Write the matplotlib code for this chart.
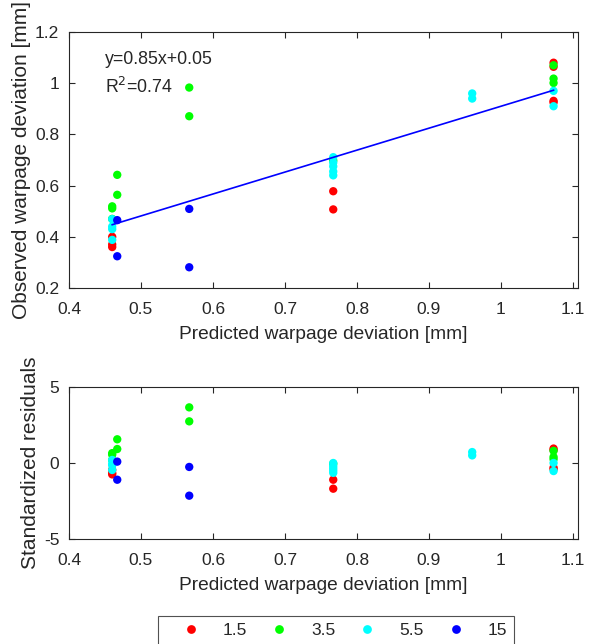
import matplotlib
matplotlib.use("Agg")
import matplotlib.pyplot as plt
import numpy as np
from matplotlib.lines import Line2D

plt.rcParams['font.family'] = ['Liberation Sans', 'DejaVu Sans']
plt.rcParams['axes.unicode_minus'] = False

groups = ["1.5", "3.5", "5.5", "15"]
colors = ["#ff0000", "#00ff00", "#00ffff", "#0000ff"]

red_pred = [0.46, 0.46, 0.46, 0.767, 0.767, 1.073, 1.073, 1.073, 1.073]
red_obs = [0.40, 0.37, 0.36, 0.578, 0.507, 1.080, 1.064, 0.931, 0.925]
red_res = [-0.45, -0.65, -0.75, -1.1, -1.69, 0.95, 0.85, -0.3, -0.4]

green_pred = [0.46, 0.46, 0.46, 0.467, 0.467, 0.567, 0.567, 0.767, 1.073, 1.073, 1.073]
green_obs = [0.519, 0.511, 0.47, 0.642, 0.564, 0.983, 0.871, 0.698, 1.07, 1.018, 1.001]
green_res = [0.65, 0.55, 0.2, 1.56, 0.92, 3.66, 2.74, -0.05, 0.8, 0.4, 0.25]

cyan_pred = [0.46, 0.46, 0.46, 0.46, 0.767, 0.767, 0.767, 0.767, 0.767, 0.96, 0.96, 1.073, 1.073]
cyan_obs = [0.469, 0.44, 0.43, 0.388, 0.711, 0.69, 0.675, 0.655, 0.64, 0.960, 0.940, 0.970, 0.910]
cyan_res = [0.2, -0.05, -0.15, -0.46, 0.0, -0.2, -0.35, -0.5, -0.65, 0.72, 0.5, 0.0, -0.53]

blue_pred = [0.467, 0.467, 0.567, 0.567]
blue_obs = [0.465, 0.324, 0.509, 0.281]
blue_res = [0.09, -1.1, -0.26, -2.15]

preds = [red_pred, green_pred, cyan_pred, blue_pred]
obss = [red_obs, green_obs, cyan_obs, blue_obs]
ress = [red_res, green_res, cyan_res, blue_res]

fit_slope = 0.857
fit_intercept = 0.053
fit_x = [0.46, 1.073]

xticks = [0.4, 0.5, 0.6, 0.7, 0.8, 0.9, 1.0, 1.1]
xticklabels = ["0.4", "0.5", "0.6", "0.7", "0.8", "0.9", "1", "1.1"]
yticks_top = [0.2, 0.4, 0.6, 0.8, 1.0, 1.2]
yticklabels_top = ["0.2", "0.4", "0.6", "0.8", "1", "1.2"]
yticks_bot = [-5, 0, 5]

fig = plt.figure(figsize=(6.05, 6.44), dpi=100)
ax1 = fig.add_axes([69/605, 1-288/644, 509/605, 256/644])
ax2 = fig.add_axes([69/605, 1-539/644, 509/605, 152/644])

ms = 36
fs = 12.5
tc = '#262626'
for p, o, r, c in zip(preds, obss, ress, colors):
    ax1.scatter(p, o, s=ms, color=c, edgecolors='none', zorder=3)
    ax2.scatter(p, r, s=ms, color=c, edgecolors='none', zorder=3)

fx = np.array(fit_x)
ax1.plot(fx, fit_slope*fx + fit_intercept, color='#0000ff', lw=1.2, zorder=4)

ax1.text(0.4 + (105-69)/720, 1.0 + 0.2*(83-59)/51, "y=0.85x+0.05", fontsize=12.8, va='center', ha='left', color=tc)
ax1.text(0.4 + (105-69)/720, 1.0 - 0.2*(87-83)/51, r"R$^2$=0.74", fontsize=12.8, va='center', ha='left', color=tc)

for ax in (ax1, ax2):
    ax.set_xlim(0.4, 0.4 + 509/720)
    ax.set_xticks(xticks)
    ax.set_xticklabels(xticklabels)
    ax.tick_params(direction='in', top=True, right=True, labelsize=fs, length=4, width=0.8,
                   colors=tc, labelcolor=tc)
    ax.tick_params(axis='x', pad=9.8)
    ax.tick_params(axis='y', pad=7)
    for s in ax.spines.values():
        s.set_color(tc)
        s.set_linewidth(0.8)
    ax.set_xlabel("Predicted warpage deviation [mm]", fontsize=13.8, color=tc, labelpad=7)

ax1.set_ylim(0.2, 1.2)
ax1.set_yticks(yticks_top)
ax1.set_yticklabels(yticklabels_top)
ax1.set_ylabel("Observed warpage deviation [mm]", fontsize=15, color=tc, labelpad=3)

ax2.set_ylim(-5, 5)
ax2.set_yticks(yticks_bot)
ax2.set_ylabel("Standardized residuals", fontsize=15, color=tc, labelpad=3)

handles = [Line2D([], [], marker='o', ls='none', color=c, markersize=6.3, markeredgewidth=0) for c in colors]
leg = fig.legend(handles, groups, ncol=4, loc='upper left', bbox_to_anchor=(158/605, 1-616/644),
                 fontsize=fs, frameon=True, fancybox=False, edgecolor=tc,
                 handletextpad=0.35, columnspacing=0.33, borderpad=0.4, handlelength=3.0, borderaxespad=0)
leg.get_frame().set_linewidth(0.8)
for t in leg.get_texts():
    t.set_color(tc)

fig.savefig("out.png", dpi=100)
